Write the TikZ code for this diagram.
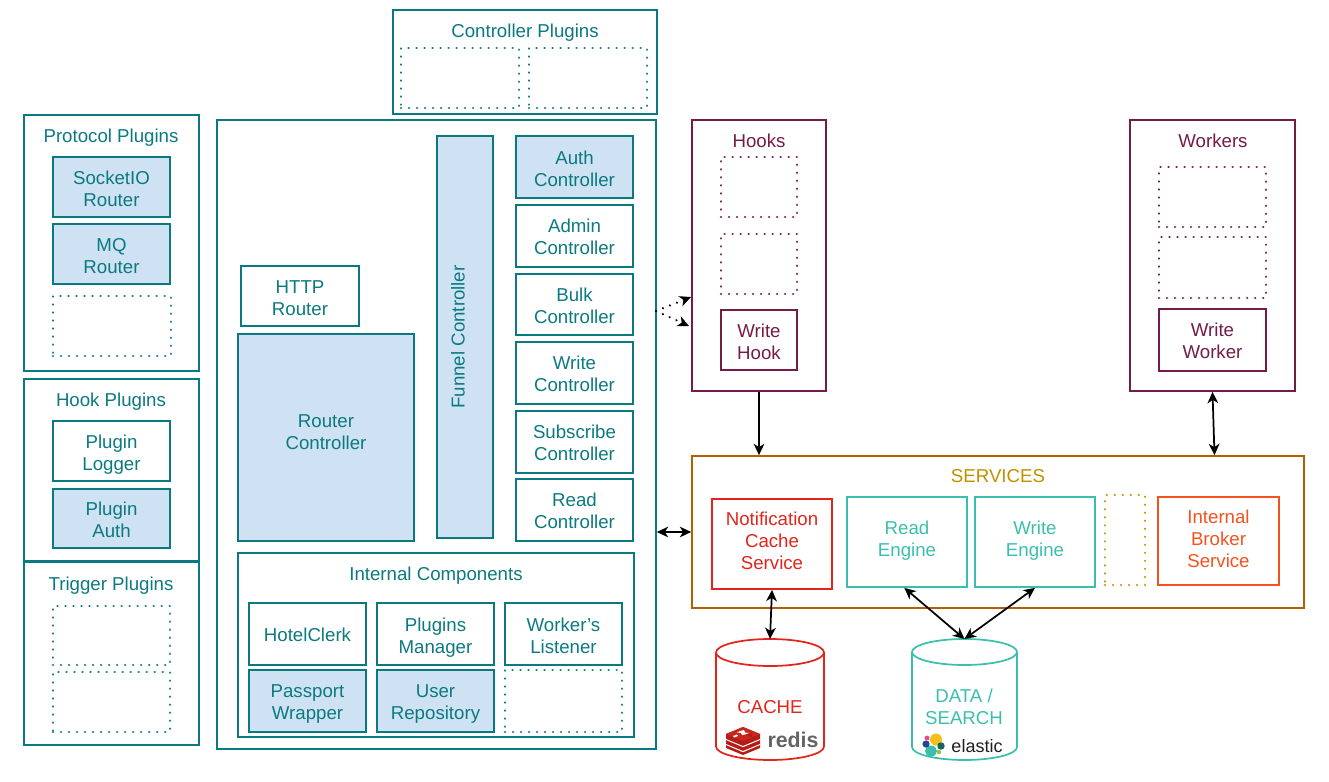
\documentclass[tikz,border=0pt]{standalone}
\usepackage{fontspec}
\setmainfont{Liberation Sans}
\usetikzlibrary{arrows.meta,calc}
\definecolor{tealc}{HTML}{0B7A80}
\definecolor{blueF}{HTML}{CFE2F3}
\definecolor{plum}{HTML}{741B47}
\definecolor{brownc}{HTML}{B45F06}
\definecolor{goldc}{HTML}{BF9000}
\definecolor{redc}{HTML}{E3241B}
\definecolor{aqua}{HTML}{3BBFAD}
\definecolor{orangec}{HTML}{F4511E}
\definecolor{redisA}{HTML}{B71C14}
\definecolor{redisB}{HTML}{C8271D}
\definecolor{redisC}{HTML}{D8352A}
\definecolor{redisT}{HTML}{646464}
\definecolor{elY}{HTML}{F5BE19}
\definecolor{elG}{HTML}{14645A}
\definecolor{elN}{HTML}{28468C}
\definecolor{elP}{HTML}{EB468C}
\definecolor{elL}{HTML}{96C33C}
\definecolor{elT}{HTML}{231F20}
\tikzset{
  bx/.style={draw,line width=1.3pt,inner sep=0pt,align=center,rectangle,font=\fontsize{14}{16.5}\selectfont},
  teal box/.style={bx,draw=tealc,text=tealc},
  teal fill/.style={teal box,fill=blueF},
  teal dot/.style={teal box,dots},
  plum box/.style={bx,draw=plum,text=plum},
  plum dot/.style={plum box,dots},
  dots/.style={line width=2pt,line cap=round,dash pattern=on 0.01pt off 6pt},
  lbl/.style={inner sep=0pt,align=center,font=\fontsize{14}{16.5}\selectfont},
  tipk/.tip={Stealth[length=8.5pt,width=8pt,inset=2.5pt]},
  conn/.style={line width=1.3pt,black,tipk-tipk},
  oneway/.style={line width=1.3pt,black,-tipk},
  dotarrow/.style={line width=1.8pt,black,line cap=round,dash pattern=on 0.01pt off 5.6pt,-tipk},
  canline/.style={line width=1.3pt}
}
\newcommand\bx[8][3.5]{%
  \pgfmathsetmacro\cxx{(#4+#6)/2}\pgfmathsetmacro\cyy{(#5+#7)/2}%
  \pgfmathsetmacro\ww{(#6-#4)*0.75}\pgfmathsetmacro\hh{(#7-#5)*0.75}%
  \pgfmathsetmacro\rr{-(#1+4.7)*0.75}%
  \node[#3,minimum width=\ww pt,minimum height=\hh pt] (#2) at (\cxx,\cyy) {\raisebox{\rr pt}[0pt][0pt]{\begin{tabular}{@{}c@{}}#8\end{tabular}}};}
\newcommand\canpath[6]{% colour, left, right, top, bottom, ry
  \pgfmathsetmacro\rxx{(#3-#2)/2}%
  \draw[canline,draw=#1] (#2,#4+#6) arc[start angle=180,end angle=-180,x radius=\rxx,y radius=#6];
  \draw[canline,draw=#1] (#2,#4+#6) -- (#2,#5-#6) arc[start angle=180,end angle=0,x radius=\rxx,y radius=#6] -- (#3,#4+#6);}
\begin{document}
\begin{tikzpicture}[x=0.75pt,y=-0.75pt]
\useasboundingbox (0,0) rectangle (1329,782);
% Controller plugins
\bx{ctrlp}{teal box}{393}{10}{657}{114}{}
\node[lbl,text=tealc] (ctrlpl) at (525,33) {Controller Plugins};
\bx{ctrlpa}{teal dot}{401}{48}{519}{108}{}
\bx{ctrlpb}{teal dot}{529}{48}{647}{108}{}
% Protocol plugins
\bx{prot}{teal box}{24}{115}{199}{371}{}
\node[lbl,text=tealc] (protl) at (111,138) {Protocol Plugins};
\bx[4]{sock}{teal fill}{53}{157}{170}{217}{SocketIO\\Router}
\bx[4]{mq}{teal fill}{53}{224}{170}{284}{MQ\\Router}
\bx{protd}{teal dot}{53}{296}{171}{356}{}
% Hook plugins
\bx{hookp}{teal box}{24}{379}{199}{561}{}
\node[lbl,text=tealc] (hookpl) at (111,402) {Hook Plugins};
\bx[4]{plog}{teal box}{53}{421}{170}{481}{Plugin\\Logger}
\bx[4]{pauth}{teal fill}{53}{489}{170}{548}{Plugin\\Auth}
% Trigger plugins
\bx{trig}{teal box}{24}{562}{199}{745}{}
\node[lbl,text=tealc] (trigl) at (111,586) {Trigger Plugins};
\bx{trida}{teal dot}{53}{606}{170}{665}{}
\bx{tridb}{teal dot}{53}{672}{170}{732}{}
% Main
\bx{main}{teal box}{217}{120}{656}{749}{}
\bx{funnel}{teal fill}{437}{136}{493}{538}{}
\node[lbl,text=tealc,rotate=90] (funnell) at (458,337) {Funnel Controller};
\bx[4]{http}{teal box}{241}{266}{359}{326}{HTTP\\Router}
\bx[-3]{router}{teal fill}{238}{334}{414}{541}{Router\\Controller}
\bx[4]{auth}{teal fill}{516}{136}{633}{198}{Auth\\Controller}
\bx[3]{admin}{teal box}{516}{205}{633}{267}{Admin\\Controller}
\bx[4]{bulk}{teal box}{516}{274}{633}{335}{Bulk\\Controller}
\bx[3]{write}{teal box}{516}{342}{633}{404}{Write\\Controller}
\bx[3]{subs}{teal box}{516}{411}{633}{473}{Subscribe\\Controller}
\bx[3]{read}{teal box}{516}{479}{633}{541}{Read\\Controller}
\bx{intc}{teal box}{238}{553}{634}{737}{}
\node[lbl,text=tealc] (intcl) at (436,576) {Internal Components};
\bx[3]{hotel}{teal box}{249}{603}{366}{665}{HotelClerk}
\bx[4]{pman}{teal box}{377}{603}{494}{665}{Plugins\\Manager}
\bx[4]{wlis}{teal box}{505}{603}{622}{665}{Worker's\\Listener}
\bx[3]{pass}{teal fill}{249}{670}{366}{732}{Passport\\Wrapper}
\bx[3]{user}{teal fill}{377}{670}{494}{732}{User\\Repository}
\bx{intd}{teal dot}{505}{670}{622}{732}{}
% Hooks
\bx{hooks}{plum box}{692}{120}{826}{391}{}
\node[lbl,text=plum] (hooksl) at (759,141) {Hooks};
\bx{hda}{plum dot}{721}{157}{797}{217}{}
\bx{hdb}{plum dot}{721}{234}{797}{294}{}
\bx[4]{whook}{plum box}{721}{310}{797}{370}{Write\\Hook}
% Workers
\bx{work}{plum box}{1130}{120}{1295}{391}{}
\node[lbl,text=plum] (workl) at (1213,141) {Workers};
\bx{wda}{plum dot}{1159}{167}{1266}{227}{}
\bx{wdb}{plum dot}{1159}{237}{1266}{298}{}
\bx[3]{wwork}{plum box}{1159}{309}{1266}{371}{Write\\Worker}
% Services
\bx{serv}{bx,draw=brownc}{692}{456}{1304}{608}{}
\node[lbl,text=goldc] (servl) at (998,476) {SERVICES};
\bx[-1]{notif}{bx,draw=redc,text=redc}{712}{499}{832}{589}{Notification\\Cache\\Service}
\bx[-1]{reng}{bx,draw=aqua,text=aqua}{847}{497}{967}{587}{Read\\Engine}
\bx[-1]{weng}{bx,draw=aqua,text=aqua}{975}{497}{1095}{587}{Write\\Engine}
\bx{sdot}{bx,draw=goldc,dots}{1105}{495}{1145}{585}{}
\bx[0]{ibs}{bx,draw=orangec,text=orangec}{1158}{497}{1279}{585}{Internal\\Broker\\Service}
% Stores
\canpath{redc}{716}{824}{639}{760}{13.5}
\canpath{aqua}{912}{1017}{639}{760}{13}
\node[minimum width=81pt,minimum height=90.75pt,inner sep=0pt,outer sep=0pt] (cache) at (770,699.5) {};
\node[lbl,text=redc] (cachel) at (770,707) {CACHE};
\node[minimum width=78.75pt,minimum height=90.75pt,inner sep=0pt,outer sep=0pt] (data) at (964.5,699.5) {};
\node[lbl,text=aqua] (datal) at (964,707) {DATA /\\SEARCH};
% redis logo
\fill[redisA] (726,734) -- (743,727) -- (760,734) -- (760,748) -- (743,755) -- (726,748) -- cycle;
\fill[white] (726,739) -- (743,746) -- (760,739) -- (760,740) -- (743,747.2) -- (726,740) -- cycle;
\fill[white] (726,744) -- (743,751) -- (760,744) -- (760,745) -- (743,752.2) -- (726,745) -- cycle;
\fill[redisB] (726,734) -- (743,727) -- (760,734) -- (743,741) -- cycle;
\fill[white] (740,731) -- (744,730) -- (745,732.5) -- (749,733) -- (745,734.5) -- (742,735) -- (741,733) -- (737,732.5) -- cycle;
\fill[redisA] (746,735) -- (752,733) -- (752,737) -- cycle;
\fill[white] (733,736) -- (737,734.5) -- (738,736) -- (734,737.5) -- cycle;
\node[inner sep=0pt,text=redisT,font=\fontsize{16}{18}\selectfont\bfseries] (redis) at (793,740) {redis};
% elastic logo
\fill[elY] (936,739.5) circle (6);
\fill[aqua] (931,751) ellipse (6 and 5.5);
\fill[elG] (941,746) circle (3.7);
\fill[elN] (926,744) circle (3.6);
\fill[elP] (927,738) circle (2.4);
\fill[elL] (939,752) circle (2.2);
\node[inner sep=0pt,text=elT,font=\fontsize{13.5}{15}\selectfont] (elastic) at (977,746) {elastic};
% connectors
\coordinate (dotfrom) at (656,311);
\coordinate (dota) at (691,297);
\coordinate (dotb) at (689,326);
\draw[dotarrow] (dotfrom) -- (dota);
\draw[dotarrow] (dotfrom) -- (dotb);
\draw[oneway] (hooks.south) -- (hooks.south |- serv.north);
\draw[conn] (work.south) -- ([xshift=1.5pt]work.south |- serv.north);
\draw[conn] (main.east |- 0,532) -- (serv.west |- 0,532);
\draw[conn] (notif.south) -- (cache.north);
\draw[conn] ([xshift=-2pt]reng.south) -- (data.north);
\draw[conn] (weng.south) -- (data.north);
\end{tikzpicture}
\end{document}
